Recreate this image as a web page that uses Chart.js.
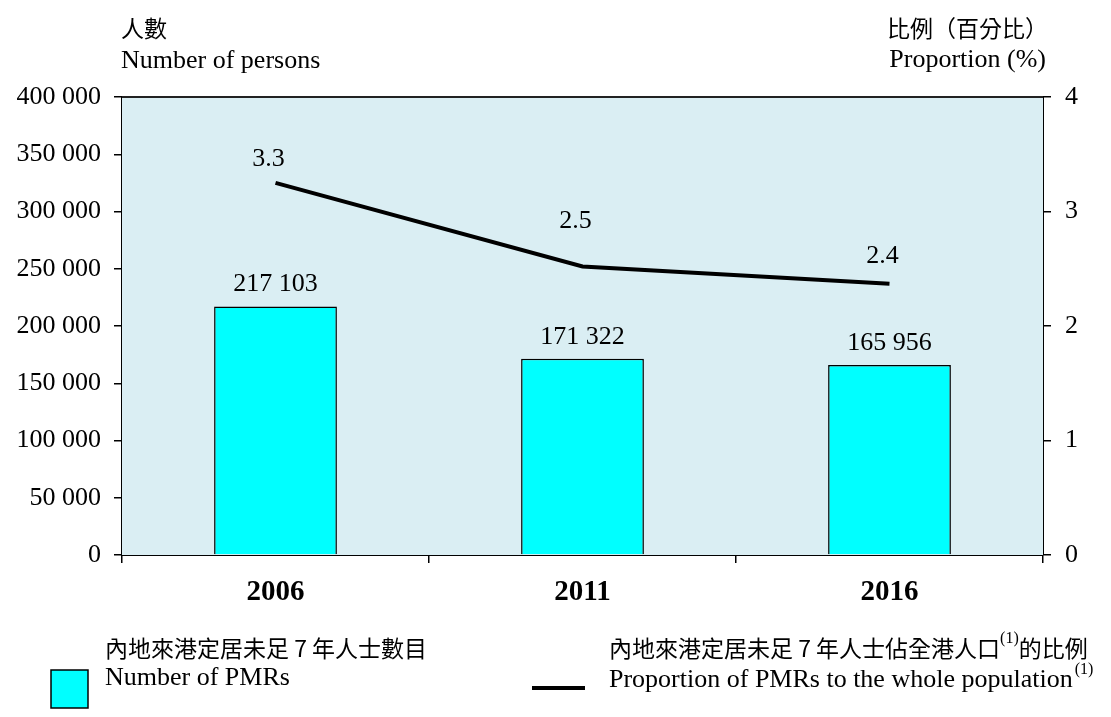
<!DOCTYPE html>
<html>
<head>
<meta charset="utf-8">
<script src="https://cdn.jsdelivr.net/npm/chart.js@4/dist/chart.umd.min.js"></script>
<style>
  html, body { margin: 0; padding: 0; background: #fff; }
  #wrap { width: 1111px; height: 717px; position: relative; }
</style>
</head>
<body>
<div id="wrap"><canvas id="chart" width="1111" height="717"></canvas></div>
<script>
// Data
const years = ['2006', '2011', '2016'];
const pmrCounts = [217103, 171322, 165956];
const pmrProportion = [3.25, 2.52, 2.37];
const leftTicks = [0, 50000, 100000, 150000, 200000, 250000, 300000, 350000, 400000];
const rightTicks = [0, 1, 2, 3, 4];

// label lift above each line point (style only)
const lineLabelLift = [24, 45, 27];

const SERIF = '"Liberation Serif", "Times New Roman", serif';
const CJK = '"Noto Sans CJK TC", "Noto Sans CJK SC", sans-serif';

function fmtThousands(v) {
    return String(v).replace(/\B(?=(\d{3})+(?!\d))/g, ' ');
}

// Plot background and top border
const plotFrame = {
    id: 'plotFrame',
    beforeDatasetsDraw(chart) {
        const { ctx, chartArea: a } = chart;
        ctx.save();
        ctx.fillStyle = '#DAEEF3';
        ctx.fillRect(a.left, a.top, a.right - a.left, a.bottom - a.top);
        ctx.restore();
    },
    afterDraw(chart) {
        const { ctx, chartArea: a } = chart;
        ctx.save();
        ctx.strokeStyle = '#222';
        ctx.lineWidth = 2;
        ctx.beginPath();
        ctx.moveTo(a.left, a.top);
        ctx.lineTo(a.right, a.top);
        ctx.stroke();
        ctx.restore();
    }
};

// Value labels, axis titles and legend
const annotations = {
    id: 'annotations',
    afterDatasetsDraw(chart) {
        const { ctx } = chart;
        ctx.save();
        ctx.fillStyle = '#000';
        ctx.textAlign = 'center';
        ctx.textBaseline = 'middle';
        ctx.font = '26px ' + SERIF;

        chart.getDatasetMeta(1).data.forEach((bar, i) => {
            ctx.fillText(fmtThousands(pmrCounts[i]), bar.x, bar.y - 22);
        });
        chart.getDatasetMeta(0).data.forEach((pt, i) => {
            ctx.fillText(pmrProportion[i].toFixed(1), pt.x - 7, pt.y - lineLabelLift[i]);
        });
        ctx.restore();
    },
    afterDraw(chart) {
        const { ctx } = chart;
        ctx.save();
        ctx.fillStyle = '#000';
        ctx.textBaseline = 'middle';

        // axis titles
        ctx.textAlign = 'left';
        ctx.font = '23px ' + CJK;
        ctx.fillText('人數', 121, 28);
        ctx.font = '26px ' + SERIF;
        ctx.fillText('Number of persons', 121, 61);

        ctx.textAlign = 'right';
        ctx.font = '23px ' + CJK;
        ctx.fillText('比例（百分比）', 1048, 28);
        ctx.font = '26px ' + SERIF;
        ctx.fillText('Proportion (%)', 1046, 60);

        // legend: bars
        ctx.fillStyle = '#00FFFF';
        ctx.fillRect(51, 670, 37, 38);
        ctx.strokeStyle = '#000';
        ctx.lineWidth = 1.5;
        ctx.strokeRect(51, 670, 37, 38);

        ctx.fillStyle = '#000';
        ctx.textAlign = 'left';
        ctx.font = '23px ' + CJK;
        ctx.fillText('內地來港定居未足 7 年人士數目', 105, 648);
        ctx.font = '26px ' + SERIF;
        ctx.fillText('Number of PMRs', 105, 678);

        // legend: line
        ctx.lineWidth = 4;
        ctx.beginPath();
        ctx.moveTo(532, 688);
        ctx.lineTo(585, 688);
        ctx.stroke();

        ctx.font = '23px ' + CJK;
        let x = 609;
        const c1 = '內地來港定居未足 7 年人士佔全港人口';
        ctx.fillText(c1, x, 648);
        x += ctx.measureText(c1).width;
        ctx.font = '16px ' + SERIF;
        ctx.fillText('(1)', x, 639);
        x += ctx.measureText('(1)').width;
        ctx.font = '23px ' + CJK;
        ctx.fillText('的比例', x, 648);

        ctx.font = '26px ' + SERIF;
        const e1 = 'Proportion of PMRs to the whole population';
        ctx.fillText(e1, 609, 680);
        const ew = ctx.measureText(e1).width;
        ctx.font = '16px ' + SERIF;
        ctx.fillText('(1)', 609 + ew + 2, 670);
        ctx.restore();
    }
};

const ctx = document.getElementById('chart').getContext('2d');
new Chart(ctx, {
    data: {
        labels: years,
        datasets: [
            {
                type: 'line',
                label: 'Proportion of PMRs to the whole population',
                data: pmrProportion,
                yAxisID: 'y1',
                borderColor: '#000',
                borderWidth: 4,
                pointRadius: 0,
                tension: 0,
                order: 0
            },
            {
                type: 'bar',
                label: 'Number of PMRs',
                data: pmrCounts,
                yAxisID: 'y',
                backgroundColor: '#00FFFF',
                borderColor: '#000',
                borderWidth: 1.5,
                barPercentage: 0.4,
                categoryPercentage: 1,
                order: 1
            }
        ]
    },
    options: {
        responsive: false,
        animation: false,
        layout: { padding: { top: 97, left: 0, right: 0, bottom: 0 } },
        plugins: {
            legend: { display: false },
            tooltip: { enabled: false }
        },
        scales: {
            x: {
                offset: true,
                grid: {
                    offset: true,
                    drawOnChartArea: false,
                    drawTicks: true,
                    tickLength: 8,
                    color: '#000',
                    lineWidth: 1.5
                },
                border: { display: true, color: '#000', width: 2 },
                ticks: {
                    color: '#000',
                    padding: 12,
                    font: { family: SERIF, size: 29, weight: 'bold' }
                },
                afterFit(scale) { scale.height = 717 - 555; }
            },
            y: {
                position: 'left',
                min: 0,
                max: 400000,
                afterBuildTicks(scale) { scale.ticks = leftTicks.map(v => ({ value: v })); },
                grid: {
                    drawOnChartArea: false,
                    drawTicks: true,
                    tickLength: 8,
                    color: '#000',
                    lineWidth: 1.5
                },
                border: { display: true, color: '#000', width: 2 },
                ticks: {
                    color: '#000',
                    padding: 13,
                    font: { family: SERIF, size: 26 },
                    callback: v => fmtThousands(v)
                },
                afterFit(scale) { scale.width = 122; }
            },
            y1: {
                position: 'right',
                min: 0,
                max: 4,
                afterBuildTicks(scale) { scale.ticks = rightTicks.map(v => ({ value: v })); },
                grid: {
                    drawOnChartArea: false,
                    drawTicks: true,
                    tickLength: 8,
                    color: '#000',
                    lineWidth: 1.5
                },
                border: { display: true, color: '#000', width: 2 },
                ticks: {
                    color: '#000',
                    padding: 14,
                    font: { family: SERIF, size: 26 }
                },
                afterFit(scale) { scale.width = 1111 - 1043; }
            }
        }
    },
    plugins: [plotFrame, annotations]
});
</script>
</body>
</html>
